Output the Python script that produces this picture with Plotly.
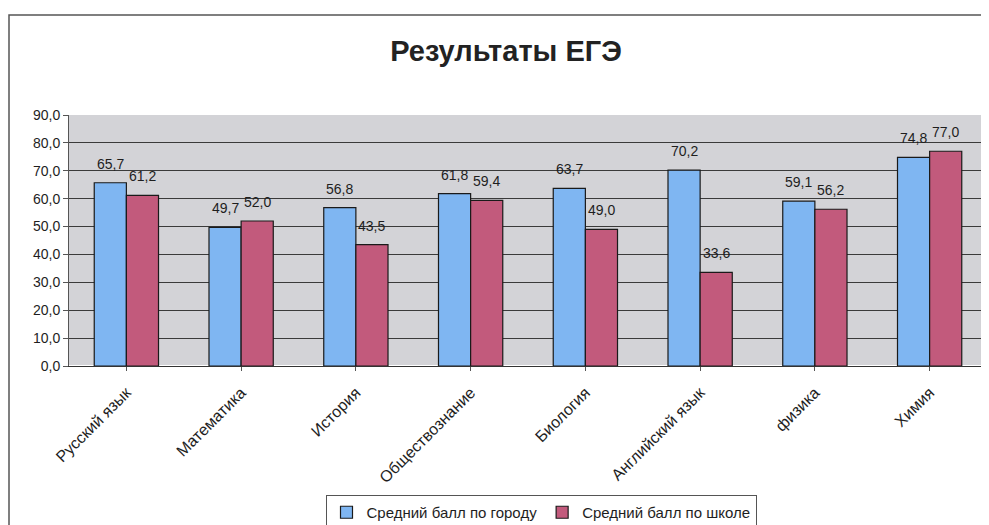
import plotly.graph_objects as go

categories = ["Русский язык", "Математика", "История", "Обществознание",
              "Биология", "Английский язык", "физика", "Химия"]
city_values = [65.7, 49.7, 56.8, 61.8, 63.7, 70.2, 59.1, 74.8]
school_values = [61.2, 52.0, 43.5, 59.4, 49.0, 33.6, 56.2, 77.0]
series_names = ["Средний балл по городу", "Средний балл по школе"]
y_ticks = [0, 10, 20, 30, 40, 50, 60, 70, 80, 90]

FONT = "Liberation Sans, Arial, sans-serif"
TXT = "#1e1e1e"

# the page body adds an 8px offset; figure is sized to fit the 989x525 window
OFF = 8
W, H = 989 - OFF, 525 - OFF
ML, MR, MT, MB = 69 - OFF, 2, 115 - OFF, 159
PW = W - ML - MR
PH = H - MT - MB


def fmt(v):
    return f"{v:.1f}".replace(".", ",")


fig = go.Figure()
for name, vals, col in [(series_names[0], city_values, "#7FB6F2"),
                        (series_names[1], school_values, "#C25A7C")]:
    fig.add_trace(go.Bar(
        x=categories, y=vals, name=name,
        marker=dict(color=col, line=dict(color="#1a1a1a", width=1.2)),
        hoverinfo="x+y",
    ))

# value labels, placed above each bar
for vals, dx in [(city_values, -16), (school_values, 16)]:
    for cat, v in zip(categories, vals):
        fig.add_annotation(x=cat, y=v, text=fmt(v), showarrow=False,
                           xshift=dx, yshift=19, yanchor="middle",
                           xanchor="center",
                           font=dict(family=FONT, size=14, color=TXT))

fig.update_layout(
    width=W, height=H,
    separators=", ",
    paper_bgcolor="white",
    plot_bgcolor="#D3D3D7",
    barmode="group",
    bargap=0.44,
    bargroupgap=0.0,
    margin=dict(l=ML, r=MR, t=MT, b=MB, autoexpand=False),
    title=dict(text="<b>Результаты ЕГЭ</b>", x=(506 - OFF) / W, xanchor="center",
               y=1 - (51 - OFF) / H, yanchor="middle", yref="container",
               font=dict(family=FONT, size=29, color="#222222")),
    font=dict(family=FONT, size=14, color=TXT),
    legend=dict(orientation="h", x=(541 - OFF - ML) / PW, xanchor="center",
                y=1 - (495 - OFF) / H, yref="container", yanchor="top",
                bordercolor="#555555", borderwidth=1,
                font=dict(family=FONT, size=15, color=TXT),
                itemwidth=30, traceorder="normal", tracegroupgap=0),
    showlegend=True,
)
fig.update_yaxes(range=[0, 90], tickvals=y_ticks, tickformat=".1f",
                 automargin=False,
                 showgrid=True, gridcolor="#3a3a3a", gridwidth=1,
                 showline=True, linecolor="#555555", ticks="outside",
                 ticklen=5, tickcolor="#555555",
                 tickfont=dict(family=FONT, size=14, color=TXT))
fig.update_xaxes(tickangle=-45, showline=True, linecolor="#333333",
                 automargin=False, ticklabelstandoff=6,
                 ticks="outside", ticklen=4, tickcolor="#555555",
                 tickfont=dict(family=FONT, size=16, color=TXT))

fig.add_shape(type="rect", xref="paper", yref="paper",
              x0=(9 - 69) / PW, x1=(W + 5 - ML) / PW,
              y0=-(MB + 10) / PH, y1=1 + (115 - 15) / PH,
              line=dict(color="#555555", width=1.5), fillcolor="rgba(0,0,0,0)",
              layer="below")

fig.write_html("out.html")
